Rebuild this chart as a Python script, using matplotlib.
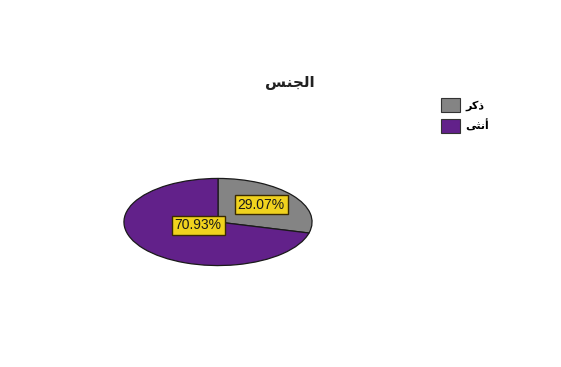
import matplotlib
matplotlib.use("Agg")
from matplotlib import pyplot as plt
from matplotlib.patches import Patch

# data
labels = ["ﺮﻛﺫ", "ﻰﺜﻧﺃ"]   # ذكر / أنثى (pre-shaped, visual order)
values = [29.07, 70.93]
colors = ["#848484", "#62218a"]
title = "ﺲﻨﺠﻟﺍ"            # الجنس

plt.rcParams['font.family'] = ['Liberation Sans', 'DejaVu Sans']

fig = plt.figure(figsize=(5.61, 3.67), dpi=100)
fig.patch.set_facecolor("white")

# elliptical pie
ax = fig.add_axes([123/561, 1 - 266/367, 190/561, 88/367])
wedges, texts = ax.pie(values, colors=colors, startangle=90, counterclock=False,
                       wedgeprops=dict(edgecolor="#1a1a1a", linewidth=0.9))
ax.set_aspect("auto")
ax.set_xlim(-1.01, 1.01)
ax.set_ylim(-1.01, 1.01)
ax.axis("off")

# percentage labels
lbl_pos = [(0.46, 0.40), (-0.21, -0.08)]
for v, (x, y) in zip(values, lbl_pos):
    ax.text(x, y, "%.2f%%" % v, ha="center", va="center", fontsize=10,
            color="#1a1a1a",
            bbox=dict(boxstyle="square,pad=0.2", facecolor="#f0d21e",
                      edgecolor="#3a2a00", linewidth=1.0))

fig.text(290/561, 1 - 82/367, title, ha="center", va="center",
         fontsize=11, fontweight="bold", color="#222222", family="DejaVu Sans")

# legend
handles = [Patch(facecolor=c, edgecolor="#333333", linewidth=0.8) for c in colors]
leg = fig.legend(handles, labels, loc="upper left", bbox_to_anchor=(431/561, 1 - 88/367),
                 frameon=False, handlelength=1.7, handleheight=1.6,
                 handletextpad=0.5, labelspacing=0.6,
                 prop=dict(family="DejaVu Sans", weight="bold", size=8))

plt.savefig("out.png", dpi=100)
